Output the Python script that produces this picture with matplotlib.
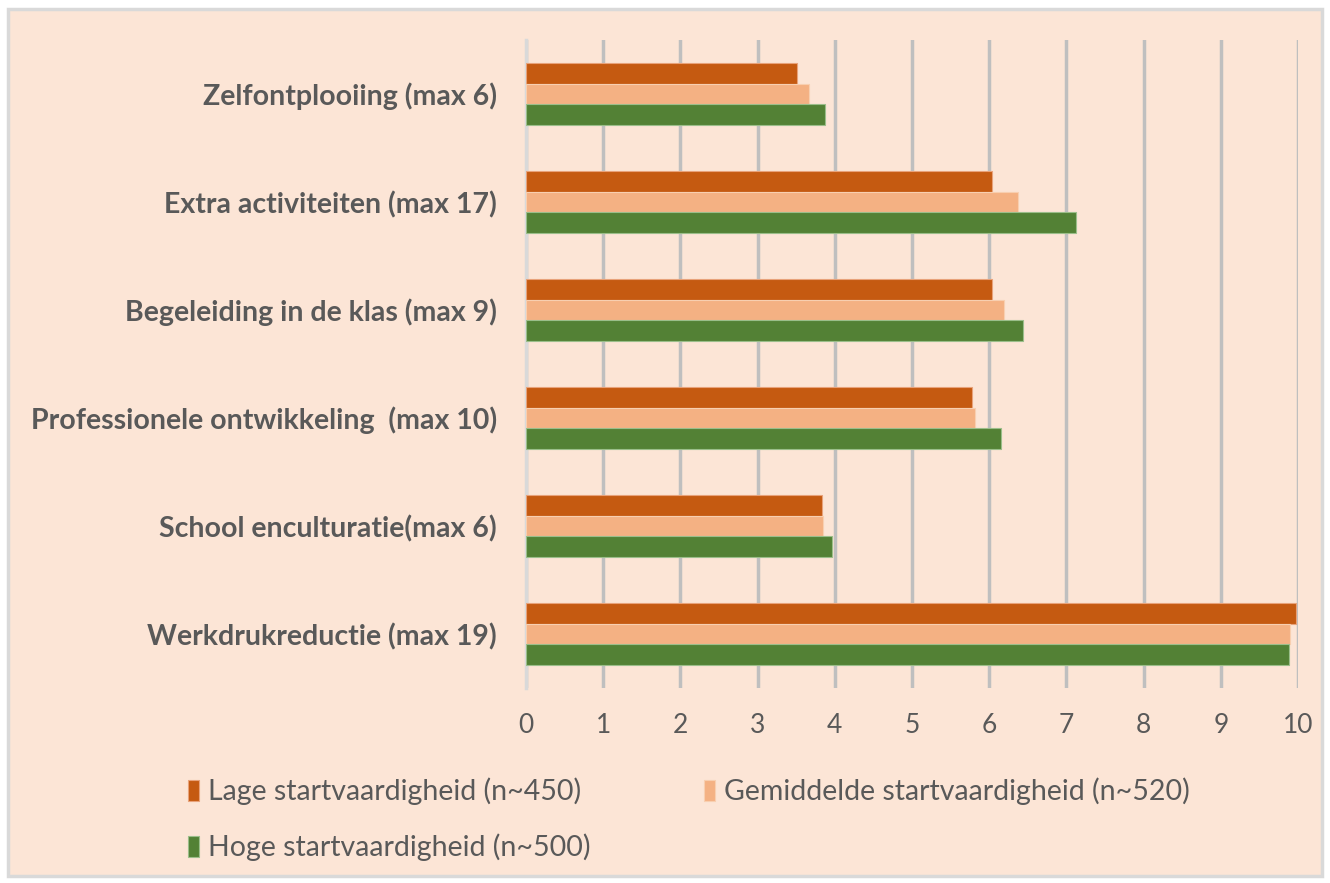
import matplotlib
matplotlib.use("Agg")
import matplotlib.pyplot as plt
from matplotlib.patches import Rectangle
import numpy as np

categories = ["Werkdrukreductie (max 19)", "School enculturatie(max 6)",
              "Professionele ontwikkeling  (max 10)", "Begeleiding in de klas (max 9)",
              "Extra activiteiten (max 17)", "Zelfontplooiing (max 6)"]
lage = [9.98, 3.83, 5.78, 6.03, 6.03, 3.51]
gemiddeld = [9.90, 3.85, 5.81, 6.19, 6.37, 3.66]
hoge = [9.88, 3.97, 6.15, 6.44, 7.12, 3.87]
series_labels = ["Lage startvaardigheid (n~450)", "Gemiddelde startvaardigheid (n~520)",
                 "Hoge startvaardigheid (n~500)"]
xticks = list(range(0, 11))

c_lage = "#C55A11"
c_gem = "#F4B183"
c_hoge = "#538135"
bg = "#FCE5D6"
txt = "#595959"

fig = plt.figure(figsize=(13.3, 8.83), dpi=100)
fig.patch.set_facecolor("white")
fig.patches.append(Rectangle((8/1330, 1-876/883), 1314/1330, 867/883, transform=fig.transFigure,
                             facecolor=bg, edgecolor="#D9D9D9", linewidth=2.5, zorder=-10))

ax = fig.add_axes([526/1330, 1-688/883, (1298-526)/1330, (688-40)/883])
ax.set_facecolor("none")
y = np.arange(len(categories))
h = 0.19
b1 = ax.barh(y + h, lage, height=h, color=c_lage, edgecolor="#E8A27A", linewidth=0.8, label=series_labels[0], zorder=3)
b2 = ax.barh(y, gemiddeld, height=h, color=c_gem, edgecolor="#F8CFB0", linewidth=0.8, label=series_labels[1], zorder=3)
b3 = ax.barh(y - h, hoge, height=h, color=c_hoge, edgecolor="#9BBE8A", linewidth=0.8, label=series_labels[2], zorder=3)

ax.set_xlim(0, 10)
ax.set_ylim(-0.5, len(categories) - 0.5)
ax.set_xticks(xticks)
ax.set_yticks(y)
ax.set_yticklabels(categories, fontsize=20.5, fontweight="bold", color=txt, family="Lato")
ax.tick_params(axis="y", length=0, pad=21)
ax.tick_params(axis="x", length=0, pad=18, labelsize=19, labelcolor=txt)
for lab in ax.get_xticklabels():
    lab.set_family("Lato")
ax.grid(axis="x", color="#BFBFBF", linewidth=2.5, zorder=1)
ax.set_axisbelow(True)
for s in ["top", "right", "bottom"]:
    ax.spines[s].set_visible(False)
ax.spines["left"].set_color("#D9D9D9")
ax.spines["left"].set_linewidth(2.5)
ax.spines["left"].set_zorder(2)

leg = fig.legend([b1, b3, b2], [series_labels[0], series_labels[2], series_labels[1]],
                 ncol=2, loc="upper left", bbox_to_anchor=(162/1330, 1-752/883),
                 frameon=False, handlelength=0.4, handleheight=0.75, handletextpad=0.3,
                 columnspacing=4.0, labelspacing=1.0, prop={"family": "Lato", "size": 20.5})
for t in leg.get_texts():
    t.set_color(txt)

fig.savefig("out.png", dpi=100, facecolor=fig.get_facecolor())
